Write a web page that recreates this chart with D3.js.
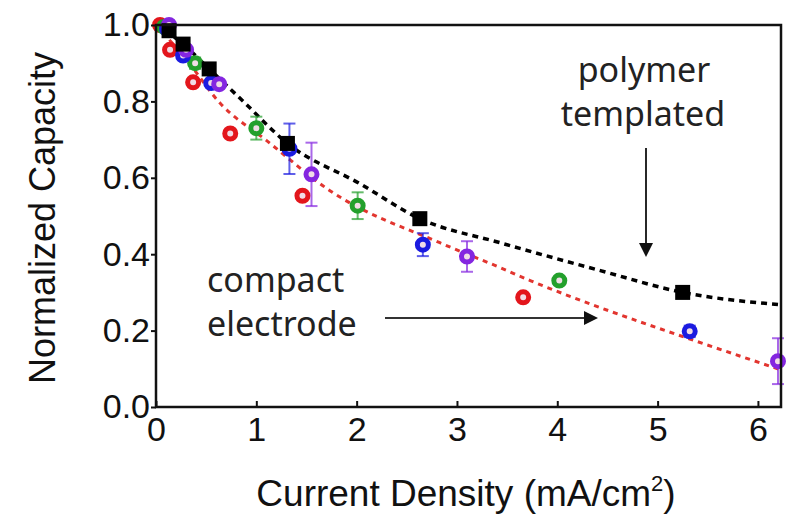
<!DOCTYPE html>
<html>
<head>
<meta charset="utf-8">
<script src="https://cdn.jsdelivr.net/npm/d3@7"></script>
<style>
  body { margin: 0; background: #fff; }
  text { font-family: "Liberation Sans", Arial, sans-serif; }
  .note { font-family: "Noto Sans", "Open Sans", sans-serif; fill: #222; }
</style>
</head>
<body>
<div id="chart"></div>
<script>
// polymer templated (black squares)
const polyX = [0.13, 0.27, 0.53, 1.31, 2.63, 5.25];
const polyY = [0.985, 0.95, 0.885, 0.69, 0.493, 0.30];

// compact electrode sets (open circles)
const redX = [0.04, 0.14, 0.37, 0.74, 1.46, 3.66];
const redY = [1.0, 0.935, 0.85, 0.716, 0.553, 0.287];
const redErr = [0, 0, 0, 0, 0, 0];

const greenX = [0.08, 0.39, 1.0, 2.01, 4.02];
const greenY = [0.995, 0.90, 0.73, 0.527, 0.331];
const greenErr = [0, 0.015, 0.03, 0.035, 0.01];

const blueX = [0.11, 0.27, 0.55, 1.33, 2.66, 5.32];
const blueY = [0.99, 0.92, 0.848, 0.676, 0.425, 0.198];
const blueErr = [0, 0, 0, 0.066, 0.03, 0.015];

const purpleX = [0.13, 0.30, 0.63, 1.55, 3.10, 6.2];
const purpleY = [1.0, 0.935, 0.845, 0.609, 0.394, 0.12];
const purpleErr = [0, 0, 0, 0.083, 0.04, 0.06];

// dashed guide curves
const blackFitX = [0, 0.27, 0.53, 0.87, 1.31, 2.03, 2.63, 3.43, 4.43, 5.25, 6.22];
const blackFitY = [1.0, 0.95, 0.885, 0.80, 0.69, 0.585, 0.493, 0.43, 0.357, 0.30, 0.268];
const redFitX = [0, 0.3, 0.64, 1.1, 1.73, 2.83, 3.43, 3.73, 4.43, 5.3, 6.22];
const redFitY = [1.0, 0.91, 0.795, 0.698, 0.567, 0.43, 0.365, 0.331, 0.26, 0.18, 0.098];

const xTicks = [0, 1, 2, 3, 4, 5, 6];
const yTicks = [0, 0.2, 0.4, 0.6, 0.8, 1.0];

const margin = { top: 25, right: 6, bottom: 111, left: 156 },
    width = 787 - margin.left - margin.right,
    height = 518 - margin.top - margin.bottom;

const svgContainer = d3.select("#chart").append("svg")
    .attr("width", 787)
    .attr("height", 518);

const svg = svgContainer.append("g")
    .attr("transform", `translate(${margin.left},${margin.top})`);

const x = d3.scaleLinear().domain([0, 6.23]).range([0, width]);
const y = d3.scaleLinear().domain([0, 1.0]).range([height, 0]);

const zip = (xs, ys, es) => xs.map((v, i) => ({ x: v, y: ys[i], e: es ? es[i] : 0 }));

const line = d3.line()
    .x(d => x(d.x))
    .y(d => y(d.y))
    .curve(d3.curveMonotoneX);

svg.append("path")
    .datum(zip(redFitX, redFitY))
    .attr("fill", "none")
    .attr("stroke", "#e2352f")
    .attr("stroke-width", 3)
    .attr("stroke-dasharray", "5,5")
    .attr("d", line);

svg.append("path")
    .datum(zip(blackFitX, blackFitY))
    .attr("fill", "none")
    .attr("stroke", "#000")
    .attr("stroke-width", 3.5)
    .attr("stroke-dasharray", "6,5")
    .attr("d", line);

const circleSeries = [
    { data: zip(redX, redY, redErr), colour: "#e3161c" },
    { data: zip(greenX, greenY, greenErr), colour: "#23a02c" },
    { data: zip(blueX, blueY, blueErr), colour: "#1b1be0" },
    { data: zip(purpleX, purpleY, purpleErr), colour: "#8426e0" }
];

circleSeries.forEach(s => {
    const g = svg.append("g");
    const withErr = s.data.filter(d => d.e > 0);
    g.selectAll(".err").data(withErr).join("line")
        .attr("x1", d => x(d.x)).attr("x2", d => x(d.x))
        .attr("y1", d => y(d.y - d.e)).attr("y2", d => y(d.y + d.e))
        .attr("stroke", s.colour).attr("stroke-opacity", 0.7).attr("stroke-width", 2);
    [-1, 1].forEach(sign => {
        g.selectAll(".cap" + sign).data(withErr).join("line")
            .attr("x1", d => x(d.x) - 6).attr("x2", d => x(d.x) + 6)
            .attr("y1", d => y(d.y + sign * d.e)).attr("y2", d => y(d.y + sign * d.e))
            .attr("stroke", s.colour).attr("stroke-opacity", 0.7).attr("stroke-width", 2);
    });
    g.selectAll("circle").data(s.data).join("circle")
        .attr("cx", d => x(d.x))
        .attr("cy", d => y(d.y))
        .attr("r", 5.5)
        .attr("fill", "#f1dde6")
        .attr("stroke", s.colour)
        .attr("stroke-width", 5);
});

svg.selectAll(".sq").data(zip(polyX, polyY)).join("rect")
    .attr("x", d => x(d.x) - 7.5)
    .attr("y", d => y(d.y) - 7.5)
    .attr("width", 15)
    .attr("height", 15)
    .attr("fill", "#000");

// frame
svg.append("rect")
    .attr("width", width)
    .attr("height", height)
    .attr("fill", "none")
    .attr("stroke", "#111")
    .attr("stroke-width", 2.5);

const xAxisGroup = svg.append("g")
    .attr("transform", `translate(0,${height})`)
    .call(d3.axisBottom(x).tickValues(xTicks).tickFormat(d3.format("d")).tickSizeInner(-6).tickSizeOuter(0).tickPadding(10));

xAxisGroup.select(".domain").remove();
xAxisGroup.selectAll("line").style("stroke", "#111").style("stroke-width", 2);
xAxisGroup.selectAll("text").style("fill", "#111").style("font-size", "34px");

const yAxisGroup = svg.append("g")
    .call(d3.axisLeft(y).tickValues(yTicks).tickFormat(d3.format(".1f")).tickSizeInner(5).tickSizeOuter(0).tickPadding(1));

yAxisGroup.select(".domain").remove();
yAxisGroup.selectAll("line").style("stroke", "#111").style("stroke-width", 2);
yAxisGroup.selectAll("text").style("fill", "#111").style("font-size", "34px");

const xLabel = svgContainer.append("text")
    .attr("x", 466)
    .attr("y", 506)
    .style("text-anchor", "middle")
    .style("font-size", "37px")
    .style("fill", "#111");
xLabel.append("tspan").text("Current Density (mA/cm");
xLabel.append("tspan").attr("dy", -15).style("font-size", "22px").text("2");
xLabel.append("tspan").attr("dy", 15).text(")");

svgContainer.append("text")
    .attr("transform", "translate(55,218) rotate(-90)")
    .style("text-anchor", "middle")
    .style("font-size", "36px")
    .style("fill", "#111")
    .text("Normalized Capacity");

// annotations
svgContainer.append("text").attr("class", "note")
    .attr("x", 644).attr("y", 82)
    .style("text-anchor", "middle").style("font-size", "34px")
    .text("polymer");
svgContainer.append("text").attr("class", "note")
    .attr("x", 643).attr("y", 126)
    .style("text-anchor", "middle").style("font-size", "34px")
    .text("templated");
svgContainer.append("text").attr("class", "note")
    .attr("x", 207).attr("y", 292)
    .style("font-size", "34px")
    .text("compact");
svgContainer.append("text").attr("class", "note")
    .attr("x", 207).attr("y", 336)
    .style("font-size", "34px")
    .text("electrode");

svgContainer.append("line")
    .attr("x1", 646).attr("y1", 148).attr("x2", 646).attr("y2", 246)
    .attr("stroke", "#111").attr("stroke-width", 1.8);
svgContainer.append("path")
    .attr("d", "M639,243 L653,243 L646,257 Z")
    .attr("fill", "#111");

svgContainer.append("line")
    .attr("x1", 385).attr("y1", 318).attr("x2", 586).attr("y2", 318)
    .attr("stroke", "#333").attr("stroke-width", 1.8);
svgContainer.append("path")
    .attr("d", "M584,311 L598,318 L584,325 Z")
    .attr("fill", "#111");
</script>
</body>
</html>
